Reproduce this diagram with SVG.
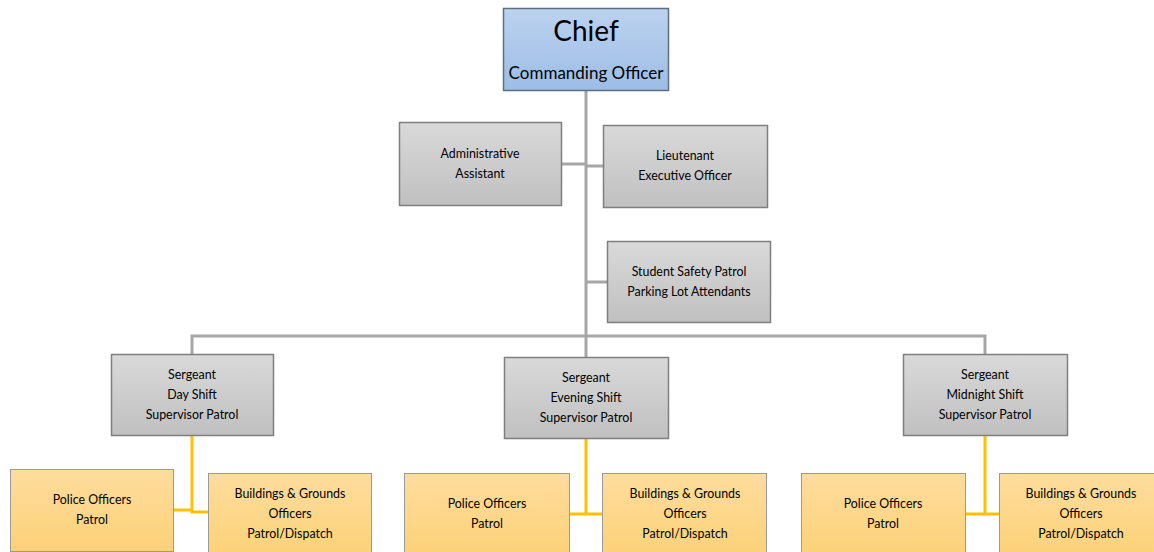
<svg xmlns="http://www.w3.org/2000/svg" width="1154" height="552" viewBox="0 0 1154 552">
<defs>
<linearGradient id="gBlue" x1="0" y1="0" x2="0" y2="1"><stop offset="0" stop-color="#bcd2ee"/><stop offset="1" stop-color="#9cbde6"/></linearGradient>
<linearGradient id="gGray" x1="0" y1="0" x2="0" y2="1"><stop offset="0" stop-color="#d9d9d9"/><stop offset="1" stop-color="#c0c0c0"/></linearGradient>
<linearGradient id="gOrange" x1="0" y1="0" x2="0" y2="1"><stop offset="0" stop-color="#fedc9e"/><stop offset="1" stop-color="#fcd277"/></linearGradient>
</defs>
<style>
.box{stroke:#7f7f7f;stroke-width:1.5}
.blue{fill:url(#gBlue);stroke:#5f6f80;stroke-width:1.5}
.gray{fill:url(#gGray)}
.orange{fill:url(#gOrange);stroke:#9a9a9a}
.gl{stroke:#a6a6a6;stroke-width:3;fill:none}
.ol{stroke:#ffc000;stroke-width:3;fill:none}
text{font-family:Lato,"Open Sans","Liberation Sans",sans-serif;fill:#000;text-anchor:middle;font-size:12.4px}
.big{font-size:28px}
.mid{font-size:17px}
</style>
<g id="connectors">
<path class="gl" d="M586 90V358"/>
<path class="gl" d="M561 164H586"/>
<path class="gl" d="M586 166H603"/>
<path class="gl" d="M586 282H607"/>
<path class="gl" d="M192 354V336H985V354"/>
<path class="ol" d="M192 436V512H208"/>
<path class="ol" d="M173 510H192"/>
<path class="ol" d="M586 439V514H602"/>
<path class="ol" d="M569 514H586"/>
<path class="ol" d="M985 436V514H999"/>
<path class="ol" d="M965 514H985"/>
</g>
<g id="chief"><rect class="blue" x="503.5" y="8.5" width="165" height="82"/><text class="big" x="586" y="41">Chief</text><text class="mid" x="586" y="79">Commanding Officer</text></g>
<g id="admin"><rect class="box gray" x="399.5" y="122.5" width="162" height="83"/><text x="480" y="158">Administrative</text><text x="480" y="178">Assistant</text></g>
<g id="lieutenant"><rect class="box gray" x="603.5" y="125.5" width="164" height="82"/><text x="685" y="160">Lieutenant</text><text x="685" y="180">Executive Officer</text></g>
<g id="student"><rect class="box gray" x="607.5" y="241.5" width="163" height="81"/><text x="689" y="276">Student Safety Patrol</text><text x="689" y="296">Parking Lot Attendants</text></g>
<g id="sgt-day"><rect class="box gray" x="111.5" y="354.5" width="162" height="81"/><text x="192" y="379">Sergeant</text><text x="192" y="399">Day Shift</text><text x="192" y="419">Supervisor Patrol</text></g>
<g id="sgt-evening"><rect class="box gray" x="504.5" y="357.5" width="164" height="81"/><text x="586" y="382">Sergeant</text><text x="586" y="402">Evening Shift</text><text x="586" y="422">Supervisor Patrol</text></g>
<g id="sgt-midnight"><rect class="box gray" x="903.5" y="354.5" width="164" height="81"/><text x="985" y="379">Sergeant</text><text x="985" y="399">Midnight Shift</text><text x="985" y="419">Supervisor Patrol</text></g>
<g id="po-day"><rect class="orange" x="10.5" y="469.5" width="163" height="82"/><text x="92" y="504">Police Officers</text><text x="92" y="524">Patrol</text></g>
<g id="bg-day"><rect class="orange" x="208.5" y="473.5" width="163" height="82"/><text x="290" y="498">Buildings &amp; Grounds</text><text x="290" y="518">Officers</text><text x="290" y="538">Patrol/Dispatch</text></g>
<g id="po-evening"><rect class="orange" x="404.5" y="473.5" width="165" height="82"/><text x="487" y="508">Police Officers</text><text x="487" y="528">Patrol</text></g>
<g id="bg-evening"><rect class="orange" x="602.5" y="473.5" width="164" height="82"/><text x="685" y="498">Buildings &amp; Grounds</text><text x="685" y="518">Officers</text><text x="685" y="538">Patrol/Dispatch</text></g>
<g id="po-midnight"><rect class="orange" x="801.5" y="473.5" width="164" height="82"/><text x="883" y="508">Police Officers</text><text x="883" y="528">Patrol</text></g>
<g id="bg-midnight"><rect class="orange" x="999.5" y="473.5" width="164" height="82"/><text x="1081" y="498">Buildings &amp; Grounds</text><text x="1081" y="518">Officers</text><text x="1081" y="538">Patrol/Dispatch</text></g>
</svg>
